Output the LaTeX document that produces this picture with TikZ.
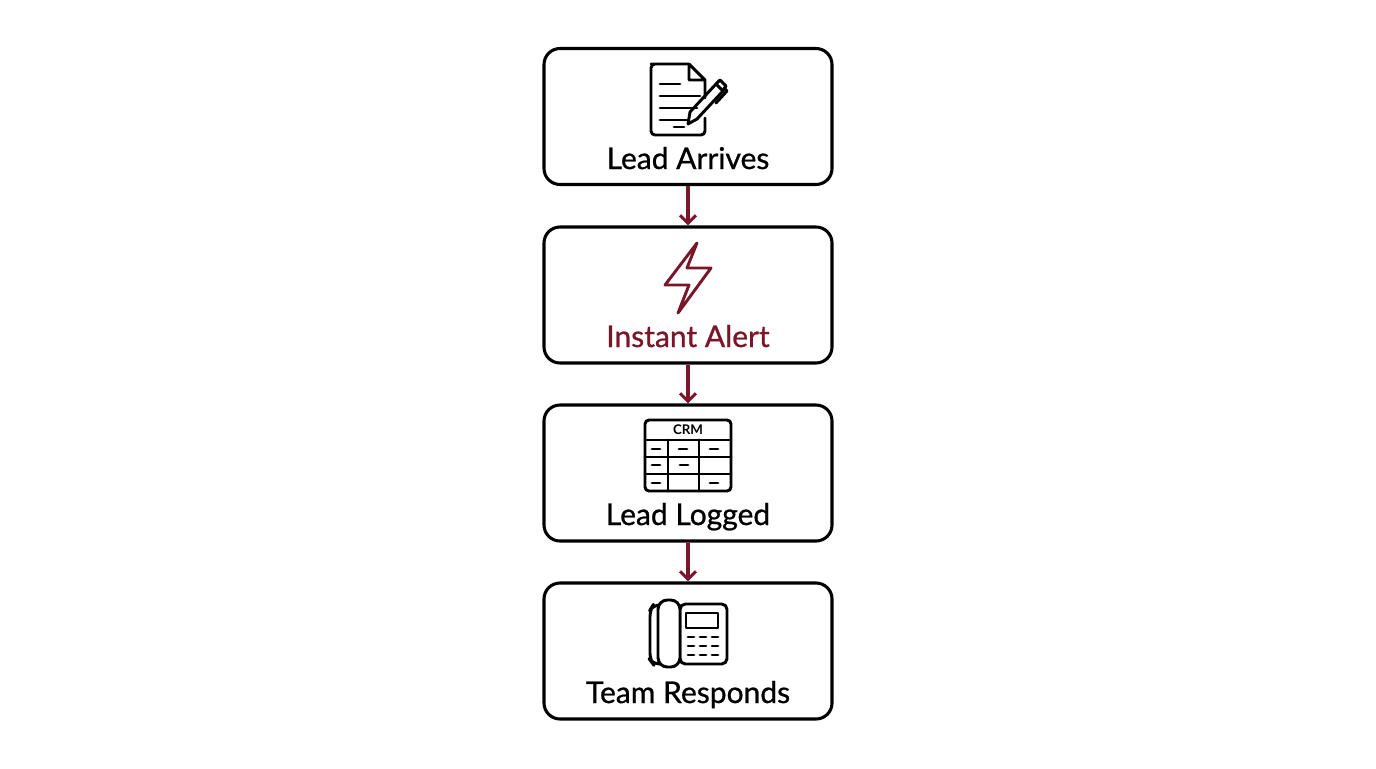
\documentclass[tikz,border=0pt]{standalone}
\usepackage{fontspec}
\setmainfont{Lato}[UprightFeatures={FakeBold=0.8}]
\usetikzlibrary{arrows.meta, positioning}
\definecolor{wine}{RGB}{122,22,42}
\tikzset{
    stage/.style={draw=black,line width=2.3pt,rounded corners=12pt,minimum width=216pt,minimum height=102pt,fill=white},
    lbl/.style={font=\fontsize{22.5}{26}\selectfont,inner sep=0pt,anchor=base},
    icon/.style={line width=2.2pt,line join=round,line cap=round},
    flow/.style={draw=wine,line width=2.3pt,-{Straight Barb[length=6pt,width=12pt]}},
}
\begin{document}
\begin{tikzpicture}[x=0.75pt,y=-0.75pt]
\useasboundingbox (0,0) rectangle (1376,768);
\node[stage] (arrive) at (688,116.5) {};
\node[stage] (alert)  at (688,295) {};
\node[stage] (logged) at (688,473) {};
\node[stage] (respond) at (688,651) {};
\node[lbl] at (688,169) {Lead Arrives};
\node[lbl,text=wine] at (688,347) {Instant Alert};
\node[lbl] at (688,525) {Lead Logged};
\node[lbl] at (688,703) {Team Responds};
\draw[flow] (arrive) -- (alert);
\draw[flow] (alert) -- (logged);
\draw[flow] (logged) -- (respond);
% document with pen
\draw[icon,rounded corners=3pt] (688,64) -- (655,64) -- (651,64) -- (651,135) -- (705,135) -- (705,118);
\draw[icon] (705,98) -- (705,80) -- (689,64) -- (689,80) -- (705,80);
\foreach \y/\a/\b in {84/660/680, 96/660/700, 108/660/697, 120/660/688, 127/674/684}
    \draw[icon] (\a,\y) -- (\b,\y);
\draw[icon] (688,124) -- (690,112) -- (716,84) -- (723,91) -- (697,119) -- cycle;
\draw[icon] (716,84) -- (720,80) -- (726,86) -- (723,91);
\draw[icon] (724,88) -- (727,91) -- (716,103);
% lightning
\draw[icon,draw=wine] (697,243) -- (665,285) -- (689,285) -- (678,313) -- (711,268) -- (687,268) -- cycle;
% crm table
\draw[icon,rounded corners=3pt] (645,420) rectangle (731,491);
\node[font=\bfseries\fontsize{10}{11}\selectfont] at (688,430) {CRM};
\draw[icon] (645,440) -- (731,440) (645,457) -- (731,457) (645,474) -- (731,474)
    (668,440) -- (668,491) (699,440) -- (699,491);
\foreach \x/\y in {656/449, 683/449, 714/449, 656/465, 684/465, 656/483, 714/483}
    \draw[icon] (\x-4,\y) -- (\x+4,\y);
% phone
\draw[icon,rounded corners=5pt] (668,605) -- (653,605) -- (650,610) -- (650,660) -- (653,664) -- (668,664);
\draw[icon,rounded corners=4pt] (680,604) rectangle (727,664);
\draw[icon,rounded corners=7pt,fill=white] (658,600) rectangle (680,667);
\draw[icon] (686,613) rectangle (718,628);
\foreach \x in {691,703,715}
    \foreach \y in {637,646,655}
        \draw[icon] (\x-3,\y) -- (\x+3,\y);
\end{tikzpicture}
\end{document}
